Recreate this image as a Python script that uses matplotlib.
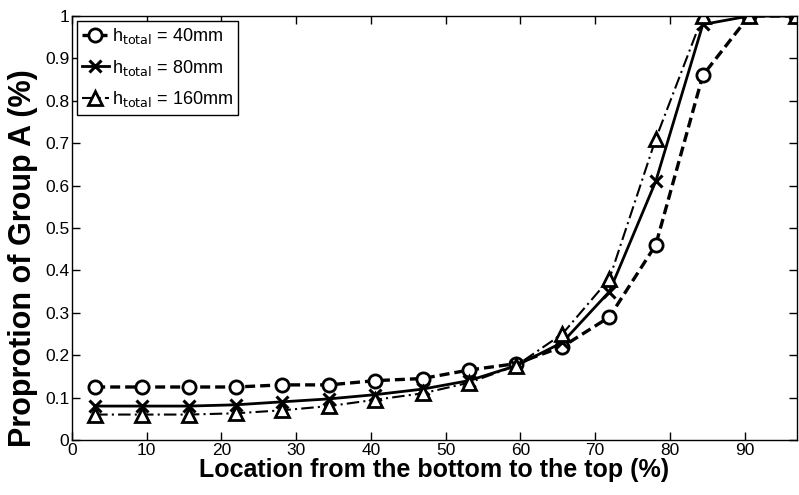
import numpy as np
import matplotlib
matplotlib.use('Agg')
import matplotlib.pyplot as plt

plt.rcParams['font.family'] = ['Liberation Sans', 'DejaVu Sans']

location = [3.1, 9.4, 15.6, 21.9, 28.1, 34.4, 40.6, 46.9, 53.1, 59.4,
            65.6, 71.9, 78.1, 84.4, 90.6, 96.9]
h40 = [0.125, 0.125, 0.125, 0.125, 0.13, 0.13, 0.14, 0.145, 0.165, 0.18,
       0.22, 0.29, 0.46, 0.86, 1.0, 1.0]
h80 = [0.08, 0.08, 0.08, 0.083, 0.09, 0.097, 0.107, 0.12, 0.14, 0.175,
       0.23, 0.35, 0.61, 0.98, 1.0, 1.0]
h160 = [0.06, 0.06, 0.06, 0.063, 0.07, 0.08, 0.095, 0.11, 0.135, 0.175,
        0.25, 0.38, 0.71, 1.0, 1.0, 1.0]
labels = [r'h$_{\rm total}$ = 40mm', r'h$_{\rm total}$ = 80mm',
          r'h$_{\rm total}$ = 160mm']

fig = plt.figure(figsize=(7.99, 4.95), dpi=100)
ax = fig.add_axes([72 / 799, 55 / 495, 725 / 799, 424 / 495])

ax.plot(location, h40, color='black', linestyle=(0, (3, 1.5)), linewidth=2.4,
        marker='o', markersize=9.5, markerfacecolor='white', markeredgewidth=2,
        label=labels[0])
ax.plot(location, h80, color='black', linestyle='-', linewidth=2,
        marker='x', markersize=8, markeredgewidth=2.2, label=labels[1])
ax.plot(location, h160, color='black', linestyle=(0, (6, 2, 1, 2)), linewidth=1.5,
        marker='^', markersize=9.5, markerfacecolor='white', markeredgewidth=2,
        label=labels[2])

ax.set_xlim(0, 97)
ax.set_ylim(0, 1)
ax.set_xticks(np.arange(0, 91, 10))
ax.set_yticks(np.arange(0, 1.01, 0.1))
ax.set_yticklabels(['0', '0.1', '0.2', '0.3', '0.4', '0.5', '0.6', '0.7', '0.8', '0.9', '1'])
ax.tick_params(direction='in', top=True, right=True, labelsize=12.5, length=6, width=1, pad=2)
for s in ax.spines.values():
    s.set_linewidth(1)

ax.set_xlabel('Location from the bottom to the top (%)', fontsize=18, fontweight='bold', labelpad=0)
ax.set_ylabel('Proprotion of Group A (%)', fontsize=22, fontweight='bold')
# label sits a bit below the axes centre in the original
ax.yaxis.set_label_coords(-0.047, 0.43)

leg = ax.legend(loc='upper left', fontsize=13, handlelength=1.5, handletextpad=0.15,
                borderaxespad=0.25, fancybox=False, edgecolor='black', framealpha=1,
                labelspacing=0.65, borderpad=0.3)
leg.get_frame().set_linewidth(1)

fig.savefig('out.png', dpi=100)
